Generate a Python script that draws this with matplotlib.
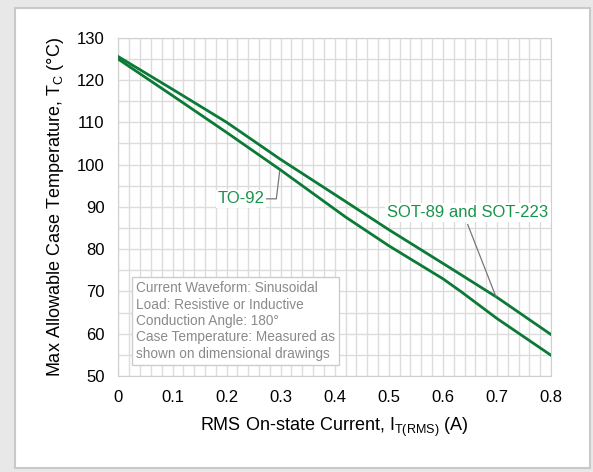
import matplotlib
matplotlib.use('Agg')
import matplotlib.pyplot as plt
from matplotlib.patches import Rectangle
import numpy as np

plt.rcParams['font.family'] = ['Liberation Sans', 'DejaVu Sans']

# data
current = [0, 0.1, 0.2, 0.3, 0.41, 0.5, 0.613, 0.7, 0.8]
sot_temp = [125.5, 117.8, 110.0, 101.2, 92.1, 84.6, 75.6, 68.6, 59.8]
to92_current = [0, 0.1, 0.2, 0.3, 0.42, 0.5, 0.6, 0.632, 0.7, 0.8]
to92_temp = [124.9, 116.3, 107.6, 98.7, 87.6, 80.8, 73.0, 70.1, 63.6, 54.9]

x_ticks = [0, 0.1, 0.2, 0.3, 0.4, 0.5, 0.6, 0.7, 0.8]
x_tick_labels = ['0', '0.1', '0.2', '0.3', '0.4', '0.5', '0.6', '0.7', '0.8']
y_ticks = [50, 60, 70, 80, 90, 100, 110, 120, 130]

note_lines = ['Current Waveform: Sinusoidal',
              'Load: Resistive or Inductive',
              'Conduction Angle: 180\u00b0',
              'Case Temperature: Measured as',
              'shown on dimensional drawings']

line_color = '#0b7a36'
text_green = '#17944a'
grid_color = '#dcdcdc'

fig = plt.figure(figsize=(5.93, 4.72), dpi=100, facecolor='#e8e8e8')
# white panel with thin border
fig.patches.append(Rectangle((15 / 593, 1 - 468 / 472), 575 / 593, 460 / 472,
                             transform=fig.transFigure, facecolor='white',
                             edgecolor='#c9c9c9', linewidth=1.5, zorder=-1))

ax = fig.add_axes([0.1998, 0.2034, 0.7294, 0.7167])
ax.set_zorder(2)
ax.set_xlim(0, 0.8)
ax.set_ylim(50, 130)

ax.set_xticks(x_ticks)
ax.set_xticklabels(x_tick_labels)
ax.set_yticks(y_ticks)
ax.set_xticks(np.arange(0, 0.8001, 0.02), minor=True)
ax.set_yticks(np.arange(50, 130.1, 5), minor=True)
ax.grid(True, which='both', color=grid_color, linewidth=1.0)
ax.set_axisbelow(True)
ax.tick_params(which='both', length=0, labelsize=12, pad=10)
for sp in ax.spines.values():
    sp.set_color('#d0d0d0')

ax.plot(current, sot_temp, color=line_color, linewidth=2.0, zorder=3)
ax.plot(to92_current, to92_temp, color=line_color, linewidth=2.0, zorder=3)

ax.set_xlabel('RMS On-state Current, I$_{\\mathregular{T(RMS)}}$ (A)', fontsize=13, labelpad=8)
ax.set_ylabel('Max Allowable Case Temperature, T$_{\\mathregular{C}}$ (\u00b0C)', fontsize=13, labelpad=8)

# TO-92 label with leader
ax.plot([0.272, 0.292, 0.298], [91.9, 91.9, 98.3], color='#777777', linewidth=0.9, zorder=4)
ax.text(0.27, 91.9, 'TO-92', color=text_green, fontsize=12, ha='right', va='center', zorder=4,
        bbox=dict(facecolor='white', edgecolor='none', pad=1.0))

# SOT label with leader
ax.plot([0.646, 0.698], [85.8, 68.8], color='#777777', linewidth=0.9, zorder=4)
ax.text(0.6465, 88.6, 'SOT-89 and SOT-223', color=text_green, fontsize=12,
        ha='center', va='center', zorder=4,
        bbox=dict(facecolor='white', edgecolor='none', pad=1.5))

# condition note box
ax.text(0.033, 63.0, '\n'.join(note_lines), color='#8a8a8a', fontsize=9.8,
        ha='left', va='center', linespacing=1.22, zorder=4,
        bbox=dict(facecolor='white', edgecolor='#cccccc', boxstyle='square,pad=0.3'))

plt.savefig('out.png', dpi=100, facecolor=fig.get_facecolor())
